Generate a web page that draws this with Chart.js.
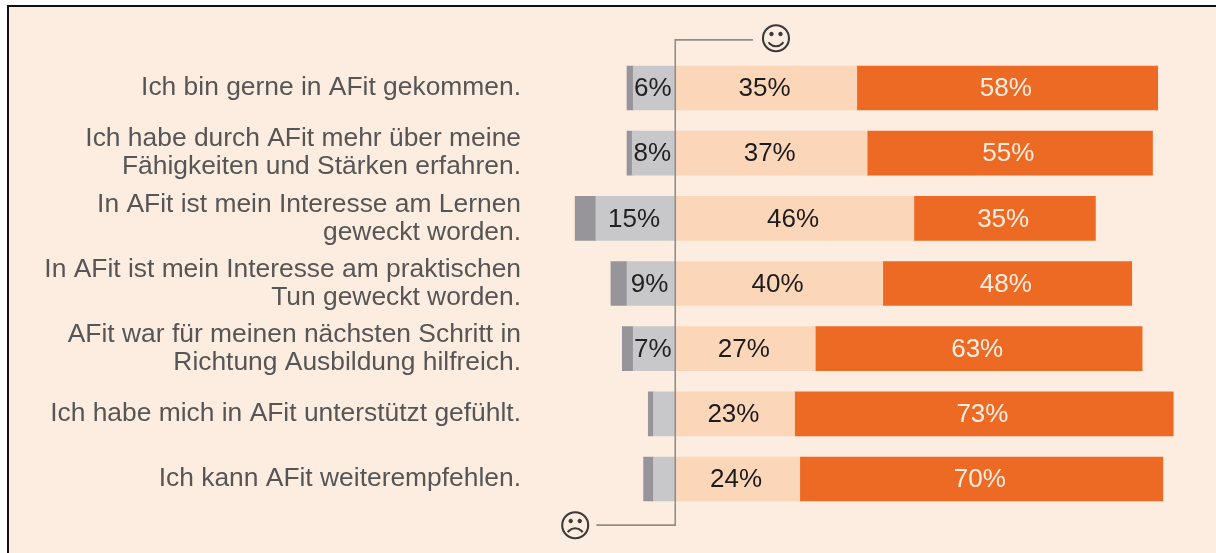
<!DOCTYPE html>
<html><head><meta charset="utf-8">
<script src="https://cdn.jsdelivr.net/npm/chart.js@4"></script>
<style>
html,body{margin:0;padding:0;background:#fff;overflow:hidden}
#frame{position:absolute;left:7px;top:5px;width:1209px;height:548px;background:#fcede0;border-left:2px solid #111;border-top:2px solid #111;box-sizing:border-box}
canvas{position:absolute;left:0;top:0}
</style></head><body>
<div id="frame"></div>
<canvas id="c" width="1216" height="553"></canvas>
<script>
const categories=[
 "Ich bin gerne in AFit gekommen.",
 ["Ich habe durch AFit mehr über meine","Fähigkeiten und Stärken erfahren."],
 ["In AFit ist mein Interesse am Lernen","geweckt worden."],
 ["In AFit ist mein Interesse am praktischen","Tun geweckt worden."],
 ["AFit war für meinen nächsten Schritt in","Richtung Ausbildung hilfreich."],
 "Ich habe mich in AFit unterstützt gefühlt.",
 "Ich kann AFit weiterempfehlen."];
const ratherNo=[-8.1,-8.3,-15.3,-9.3,-8.1,-4.2,-4.2];
const no=[-1.2,-1.0,-4.0,-3.1,-2.1,-1.0,-1.9];
const ratherYes=[35,37,46,40,27,23,24];
const yes=[58,55,35,48,63,73,70];
const ratherNoLabels=["6%","8%","15%","9%","7%","",""];
const ratherYesLabels=["35%","37%","46%","40%","27%","23%","24%"];
const yesLabels=["58%","55%","35%","48%","63%","73%","70%"];

const FONT='"Liberation Sans", Arial, sans-serif';
const overlay={id:'overlay',afterDatasetsDraw(chart){
  const ctx=chart.ctx,x=chart.scales.x,a=chart.chartArea,x0=x.getPixelForValue(0);
  ctx.save();
  ctx.strokeStyle='#8f8d8d';ctx.lineWidth=1.6;
  const yt=a.top-15.5,yb=a.bottom+13.5;
  ctx.beginPath();
  ctx.moveTo(x.getPixelForValue(15),yt);ctx.lineTo(x0,yt);ctx.lineTo(x0,yb);ctx.lineTo(x.getPixelForValue(-15.2),yb);
  ctx.stroke();
  ctx.textAlign='center';ctx.textBaseline='middle';
  ctx.font='26px '+FONT;
  const sets=[[0,ratherNoLabels,'#222'],[2,ratherYesLabels,'#1c1c1c'],[3,yesLabels,'#fdeee1']];
  for(const [d,labs,col] of sets){
    ctx.fillStyle=col;
    chart.getDatasetMeta(d).data.forEach((el,i)=>{
      if(!labs[i])return;
      const c=el.getCenterPoint();
      ctx.fillText(labs[i],c.x-1.5,c.y+1);
    });
  }
  ctx.fillStyle='#3a3a3a';
  ctx.font='32px "DejaVu Sans"';
  ctx.fillText('☺',x.getPixelForValue(19.4),yt+1.5);
  ctx.fillText('☹',x.getPixelForValue(-19.3),yb+4);
  ctx.restore();
}};
new Chart(document.getElementById('c'),{
 type:'bar',
 data:{labels:categories,datasets:[
  {data:ratherNo,backgroundColor:'#c8c8cb'},
  {data:no,backgroundColor:'#97959a'},
  {data:ratherYes,backgroundColor:'#fcd6b9'},
  {data:yes,backgroundColor:'#ed6a25'}
 ]},
 plugins:[overlay],
 options:{
  indexAxis:'y',responsive:false,animation:false,
  layout:{padding:{left:0,right:22,top:55.4,bottom:41.4}},
  datasets:{bar:{barThickness:44,borderWidth:0}},
  plugins:{legend:{display:false},tooltip:{enabled:false}},
  scales:{
   x:{display:false,stacked:true,min:-28,max:100},
   y:{stacked:true,grid:{display:false},border:{display:false},
      afterFit(s){s.width=530;},
      ticks:{color:'#565656',padding:1,crossAlign:'near',font:{family:FONT,size:26.4,lineHeight:1.06}}}
  }
 }
});
</script></body></html>
